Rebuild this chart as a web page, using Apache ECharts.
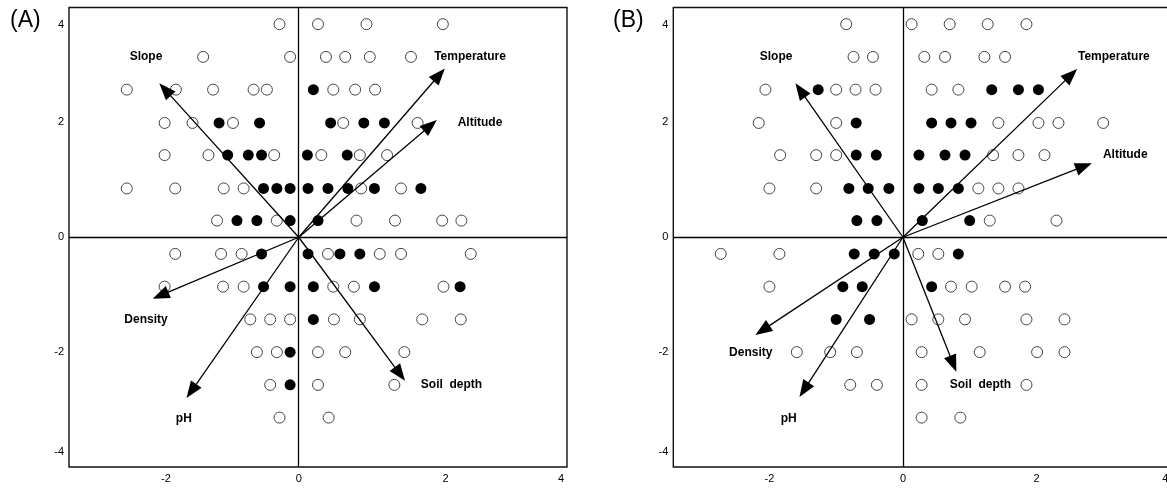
<!DOCTYPE html>
<html>
<head>
<meta charset="utf-8">
<script src="https://cdn.jsdelivr.net/npm/echarts@6/dist/echarts.min.js"></script>
<style>html,body{margin:0;padding:0;background:#fff;}#c{width:1167px;height:488px;}</style>
</head>
<body>
<div id="c"></div>
<script>
// ---------- data ----------
// Panel A: site scores, open = one group, filled = other group
const A_open = [
  [-0.29,3.71],[0.29,3.71],[1.02,3.71],[2.17,3.71],
  [-1.44,3.14],[-0.13,3.14],[0.41,3.14],[0.70,3.14],[1.07,3.14],[1.69,3.14],
  [-2.59,2.57],[-1.85,2.57],[-1.29,2.57],[-0.68,2.57],[-0.48,2.57],[0.52,2.57],[0.85,2.57],[1.15,2.57],
  [-2.02,1.99],[-1.60,1.99],[-0.99,1.99],[0.67,1.99],[1.79,1.99],
  [-2.02,1.43],[-1.36,1.43],[-0.37,1.43],[0.34,1.43],[0.92,1.43],[1.33,1.43],
  [-2.59,0.85],[-1.86,0.85],[-1.13,0.85],[-0.83,0.85],[0.94,0.85],[1.54,0.85],
  [-1.23,0.29],[-0.33,0.29],[0.87,0.29],[1.45,0.29],[2.16,0.29],[2.45,0.29],
  [-1.86,-0.29],[-1.17,-0.29],[-0.86,-0.29],[0.44,-0.29],[1.22,-0.29],[1.54,-0.29],[2.59,-0.29],
  [-2.02,-0.86],[-1.14,-0.86],[-0.83,-0.86],[0.52,-0.86],[0.83,-0.86],[2.18,-0.86],
  [-0.73,-1.43],[-0.43,-1.43],[-0.13,-1.43],[0.53,-1.43],[0.92,-1.43],[1.86,-1.43],[2.44,-1.43],
  [-0.63,-2.00],[-0.33,-2.00],[0.29,-2.00],[0.70,-2.00],[1.59,-2.00],
  [-0.43,-2.57],[0.29,-2.57],[1.44,-2.57],
  [-0.29,-3.14],[0.45,-3.14]
];
const A_filled = [
  [0.22,2.57],
  [-1.20,1.99],[-0.59,1.99],[0.48,1.99],[0.98,1.99],[1.29,1.99],
  [-1.07,1.43],[-0.76,1.43],[-0.56,1.43],[0.13,1.43],[0.73,1.43],
  [-0.53,0.85],[-0.33,0.85],[-0.13,0.85],[0.14,0.85],[0.44,0.85],[0.74,0.85],[1.14,0.85],[1.84,0.85],
  [-0.93,0.29],[-0.63,0.29],[-0.13,0.29],[0.29,0.29],
  [-0.56,-0.29],[0.14,-0.29],[0.62,-0.29],[0.92,-0.29],
  [-0.53,-0.86],[-0.13,-0.86],[0.22,-0.86],[1.14,-0.86],[2.43,-0.86],
  [0.22,-1.43],
  [-0.13,-2.00],
  [-0.13,-2.57]
];
// Panel B
const B_open = [
  [-0.85,3.71],[0.13,3.71],[0.70,3.71],[1.27,3.71],[1.85,3.71],
  [-0.74,3.14],[-0.45,3.14],[0.32,3.14],[0.63,3.14],[1.22,3.14],[1.53,3.14],
  [-2.06,2.57],[-1.00,2.57],[-0.71,2.57],[-0.41,2.57],[0.43,2.57],[0.83,2.57],
  [-2.16,1.99],[-1.00,1.99],[1.43,1.99],[2.03,1.99],[2.33,1.99],[3.00,1.99],
  [-1.84,1.43],[-1.30,1.43],[-1.00,1.43],[1.35,1.43],[1.73,1.43],[2.12,1.43],
  [-2.00,0.85],[-1.30,0.85],[1.13,0.85],[1.43,0.85],[1.73,0.85],
  [1.30,0.29],[2.30,0.29],
  [-2.73,-0.29],[-1.85,-0.29],[0.23,-0.29],[0.53,-0.29],
  [-2.00,-0.86],[0.72,-0.86],[1.03,-0.86],[1.53,-0.86],[1.83,-0.86],
  [0.13,-1.43],[0.53,-1.43],[0.93,-1.43],[1.85,-1.43],[2.42,-1.43],
  [-1.59,-2.00],[-1.09,-2.00],[-0.69,-2.00],[0.28,-2.00],[1.15,-2.00],[2.01,-2.00],[2.42,-2.00],
  [-0.79,-2.57],[-0.39,-2.57],[0.28,-2.57],[1.85,-2.57],
  [0.28,-3.14],[0.86,-3.14]
];
const B_filled = [
  [-1.27,2.57],[1.33,2.57],[1.73,2.57],[2.03,2.57],
  [-0.70,1.99],[0.43,1.99],[0.72,1.99],[1.02,1.99],
  [-0.70,1.43],[-0.40,1.43],[0.24,1.43],[0.63,1.43],[0.93,1.43],
  [-0.81,0.85],[-0.52,0.85],[-0.21,0.85],[0.24,0.85],[0.53,0.85],[0.83,0.85],
  [-0.69,0.29],[-0.39,0.29],[0.29,0.29],[1.00,0.29],
  [-0.73,-0.29],[-0.43,-0.29],[-0.13,-0.29],[0.83,-0.29],
  [-0.90,-0.86],[-0.61,-0.86],[0.43,-0.86],
  [-1.00,-1.43],[-0.50,-1.43]
];
// Environmental vectors (arrow tips)
const vecNames = ['Slope','Temperature','Altitude','Density','pH','Soil  depth'];
const A_vec = [[-2.10,2.68],[2.20,2.94],[2.08,2.04],[-2.20,-1.07],[-1.69,-2.80],[1.60,-2.50]];
const B_vec = [[-1.61,2.68],[2.61,2.93],[2.83,1.29],[-2.21,-1.70],[-1.55,-2.78],[0.80,-2.34]];
// Vector label positions
const A_lab = [[-2.30,3.14],[2.58,3.14],[2.73,1.99],[-2.30,-1.44],[-1.73,-3.16],[2.30,-2.57]];
const B_lab = [[-1.90,3.14],[3.16,3.14],[3.33,1.43],[-2.28,-2.01],[-1.71,-3.16],[1.16,-2.57]];
// Tick label positions (as placed in the picture)
const yTickPos = [-3.73,-2,0,2,3.69];
const A_xTickPos = [-2,0,2.21,3.95];
const B_xTickPos = [-2,0,2,3.93];
const panelTitles = ['(A)','(B)'];

// ---------- chart ----------
const FONT = '"Liberation Sans", Arial, sans-serif';
const chart = echarts.init(document.getElementById('c'));
const tickFmt = v => String(Math.round(v/2)*2);

function arrowItem(params, api) {
  const o = api.coord([0,0]);
  const t = api.coord([api.value(0), api.value(1)]);
  const dx = t[0]-o[0], dy = t[1]-o[1];
  const L = Math.hypot(dx, dy);
  const ux = dx/L, uy = dy/L, hl = 17, hw = 6.5;
  const bx = t[0]-ux*hl, by = t[1]-uy*hl;
  return {type:'group', children:[
    {type:'line', shape:{x1:o[0],y1:o[1],x2:bx+ux*2,y2:by+uy*2}, style:{stroke:'#000',lineWidth:1.3}},
    {type:'polygon', shape:{points:[[t[0],t[1]],[bx-uy*hw,by+ux*hw],[bx+uy*hw,by-ux*hw]]}, style:{fill:'#000'}}
  ]};
}
function labelItem(params, api) {
  const p = api.coord([api.value(0), api.value(1)]);
  return {type:'text', x:p[0], y:p[1], style:{text:vecNames[params.dataIndex], font:'bold 12px '+FONT, fill:'#000', align:'center', verticalAlign:'middle'}};
}

const grids = [
  {left:69, top:7.5, width:498, height:459.5},
  {left:673.3, top:7.5, width:498, height:459.5}
];
const xr = [[-3.46,4.04],[-3.44,4.02]];
const xt = [A_xTickPos, B_xTickPos];

const option = {
  animation:false,
  backgroundColor:'#fff',
  grid: grids.map(g => Object.assign({show:true, borderColor:'#111', borderWidth:1.4, backgroundColor:'transparent', outerBoundsMode:'none', containLabel:false}, g)),
  xAxis: [0,1].map(i => ({
    type:'value', gridIndex:i, min:xr[i][0], max:xr[i][1],
    axisLine:{show:false}, axisTick:{show:false}, splitLine:{show:false},
    axisLabel:{customValues:xt[i], formatter:tickFmt, margin:6, fontSize:11, color:'#000', fontFamily:FONT}
  })),
  yAxis: [0,1].map(i => ({
    type:'value', gridIndex:i, min:-4, max:4,
    axisLine:{show:false}, axisTick:{show:false}, splitLine:{show:false},
    axisLabel:{customValues:yTickPos, formatter:tickFmt, margin:5, fontSize:11, color:'#000', fontFamily:FONT}
  })),
  graphic: [
    {type:'text', left:10, top:9, style:{text:panelTitles[0], font:'23px '+FONT, fill:'#000'}},
    {type:'text', left:613, top:9, style:{text:panelTitles[1], font:'23px '+FONT, fill:'#000'}}
  ],
  series: []
};
const sets = [[A_open, A_filled, A_vec, A_lab],[B_open, B_filled, B_vec, B_lab]];
sets.forEach((s, i) => {
  option.series.push({
    type:'scatter', xAxisIndex:i, yAxisIndex:i, data:s[0], symbol:'circle', symbolSize:11, silent:true,
    itemStyle:{color:'#fff', borderColor:'#444', borderWidth:1, opacity:1},
    markLine:{silent:true, symbol:'none', label:{show:false}, animation:false,
      lineStyle:{color:'#000', width:1.3, type:'solid'}, data:[{xAxis:0},{yAxis:0}]}
  });
  option.series.push({
    type:'scatter', xAxisIndex:i, yAxisIndex:i, data:s[1], symbol:'circle', symbolSize:11, silent:true,
    itemStyle:{color:'#000', borderColor:'#000', borderWidth:0, opacity:1}
  });
  option.series.push({type:'custom', xAxisIndex:i, yAxisIndex:i, data:s[2], renderItem:arrowItem, silent:true, z:5});
  option.series.push({type:'custom', xAxisIndex:i, yAxisIndex:i, data:s[3], renderItem:labelItem, silent:true, z:6});
});
chart.setOption(option);
</script>
</body>
</html>
